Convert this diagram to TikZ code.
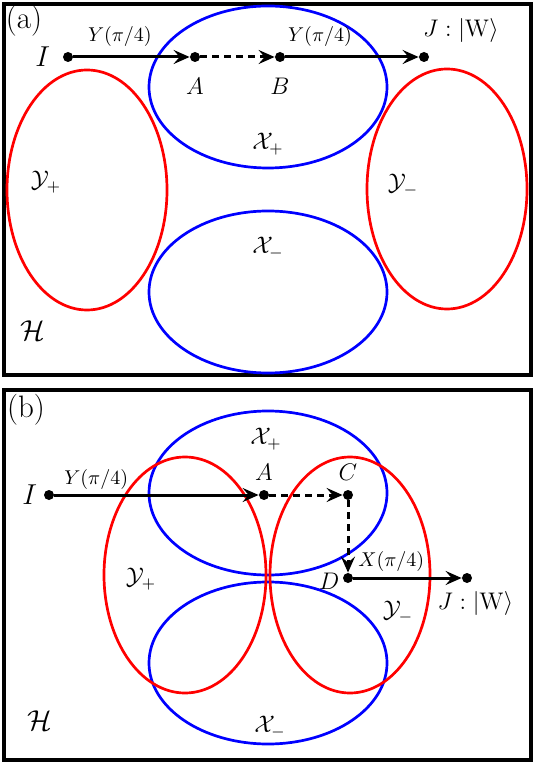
\documentclass[tikz,border=0pt]{standalone}
\usepackage{tikz}
\usetikzlibrary{arrows.meta, positioning}
\tikzset{
  frame/.style={draw, line width=2.3pt},
  dot/.style={circle, fill, inner sep=0pt, minimum size=5pt},
  xset/.style={draw=blue, line width=1.35pt},
  yset/.style={draw=red, line width=1.35pt},
  line/.style={-{Stealth[length=8pt,width=7pt,inset=3pt]}, line width=1.5pt},
  dline/.style={line, dash pattern=on 3.5pt off 2.5pt},
  lbl/.style={inner sep=0pt, font=\fontsize{13}{15}\selectfont},
  big/.style={inner sep=0pt, font=\fontsize{15}{17}\selectfont},
  gate/.style={inner sep=0pt, font=\fontsize{9.8}{11}\selectfont},
  setlbl/.style={inner sep=0pt, font=\fontsize{11.5}{13}\selectfont},
  tag/.style={inner sep=0pt, font=\fontsize{15.5}{18}\selectfont}
}

\begin{document}
\begin{tikzpicture}[x=0.5pt, y=-0.5pt]
\useasboundingbox (0,0) rectangle (535,763);
% panel (a)
\draw[frame] (4,4) rectangle (531,375);
\node[tag] (taga) at (24,21) {(a)};
\draw[xset] (268,87) ellipse [x radius=119, y radius=81];
\draw[xset] (268,292) ellipse [x radius=119, y radius=81];
\draw[yset] (87,190) ellipse [x radius=80, y radius=120];
\draw[yset] (447,189) ellipse [x radius=80, y radius=120];
\node[setlbl] (xpa) at (268,144) {$\mathcal{X}_+$};
\node[setlbl] (xma) at (268,248) {$\mathcal{X}_-$};
\node[setlbl] (ypa) at (46,182) {$\mathcal{Y}_+$};
\node[setlbl] (yma) at (403,185) {$\mathcal{Y}_-$};
\node[big] (ha) at (33,331) {$\mathcal{H}$};
\node[dot] (ia) at (68,57) {};
\node[dot] (aa) at (195,57) {};
\node[dot] (ba) at (280,57) {};
\node[dot] (ja) at (424,57) {};
\node[big, left=6pt of ia] (ia-l) {$I$};
\node[lbl, below=7.5pt of aa] (aa-l) {$A$};
\node[lbl, below=7.5pt of ba] (ba-l) {$B$};
\node[lbl, above right=5pt and -2.5pt of ja] (ja-l) {$J:|\mathrm{W}\rangle$};
\draw[line] (ia) -- node[gate, pos=0.4, above=4.5pt] (ga1) {$Y(\pi/4)$} (aa);
\draw[dline] (aa) -- (ba);
\draw[line] (ba) -- node[gate, pos=0.26, above=4.5pt] (ga2) {$Y(\pi/4)$} (ja);
% panel (b)
\draw[frame] (4,390) rectangle (531,760);
\node[tag] (tagb) at (26,410) {(b)};
\draw[xset] (268,493) ellipse [x radius=119, y radius=82];
\draw[xset] (268,663) ellipse [x radius=119, y radius=81];
\draw[yset] (185,575) ellipse [x radius=81, y radius=118];
\draw[yset] (350,575) ellipse [x radius=80, y radius=118];
\node[setlbl] (xpb) at (266,439) {$\mathcal{X}_+$};
\node[setlbl] (xmb) at (270,727) {$\mathcal{X}_-$};
\node[setlbl] (ypb) at (141,579) {$\mathcal{Y}_+$};
\node[setlbl] (ymb) at (398,612) {$\mathcal{Y}_-$};
\node[big] (hb) at (40,721) {$\mathcal{H}$};
\node[dot] (ib) at (49,495) {};
\node[dot] (ab) at (264,495) {};
\node[dot] (cb) at (348,495) {};
\node[dot] (db) at (348,578) {};
\node[dot] (jb) at (467,578) {};
\node[big, left=3pt of ib] (ib-l) {$I$};
\node[lbl, above=4.5pt of ab] (ab-l) {$A$};
\node[lbl, above=4.5pt of cb] (cb-l) {$C$};
\node[lbl, left=1.5pt of db, yshift=-1.75pt] (db-l) {$D$};
\node[lbl, below=4pt of jb, xshift=4.25pt] (jb-l) {$J:|\mathrm{W}\rangle$};
\draw[line] (ib) -- node[gate, pos=0.205, above=2pt] (gb1) {$Y(\pi/4)$} (ab);
\draw[dline] (ab) -- (cb);
\draw[dline] (cb) -- (db);
\draw[line] (db) -- node[gate, pos=0.35, above=2.5pt] (gb2) {$X(\pi/4)$} (jb);
\end{tikzpicture}
\end{document}
